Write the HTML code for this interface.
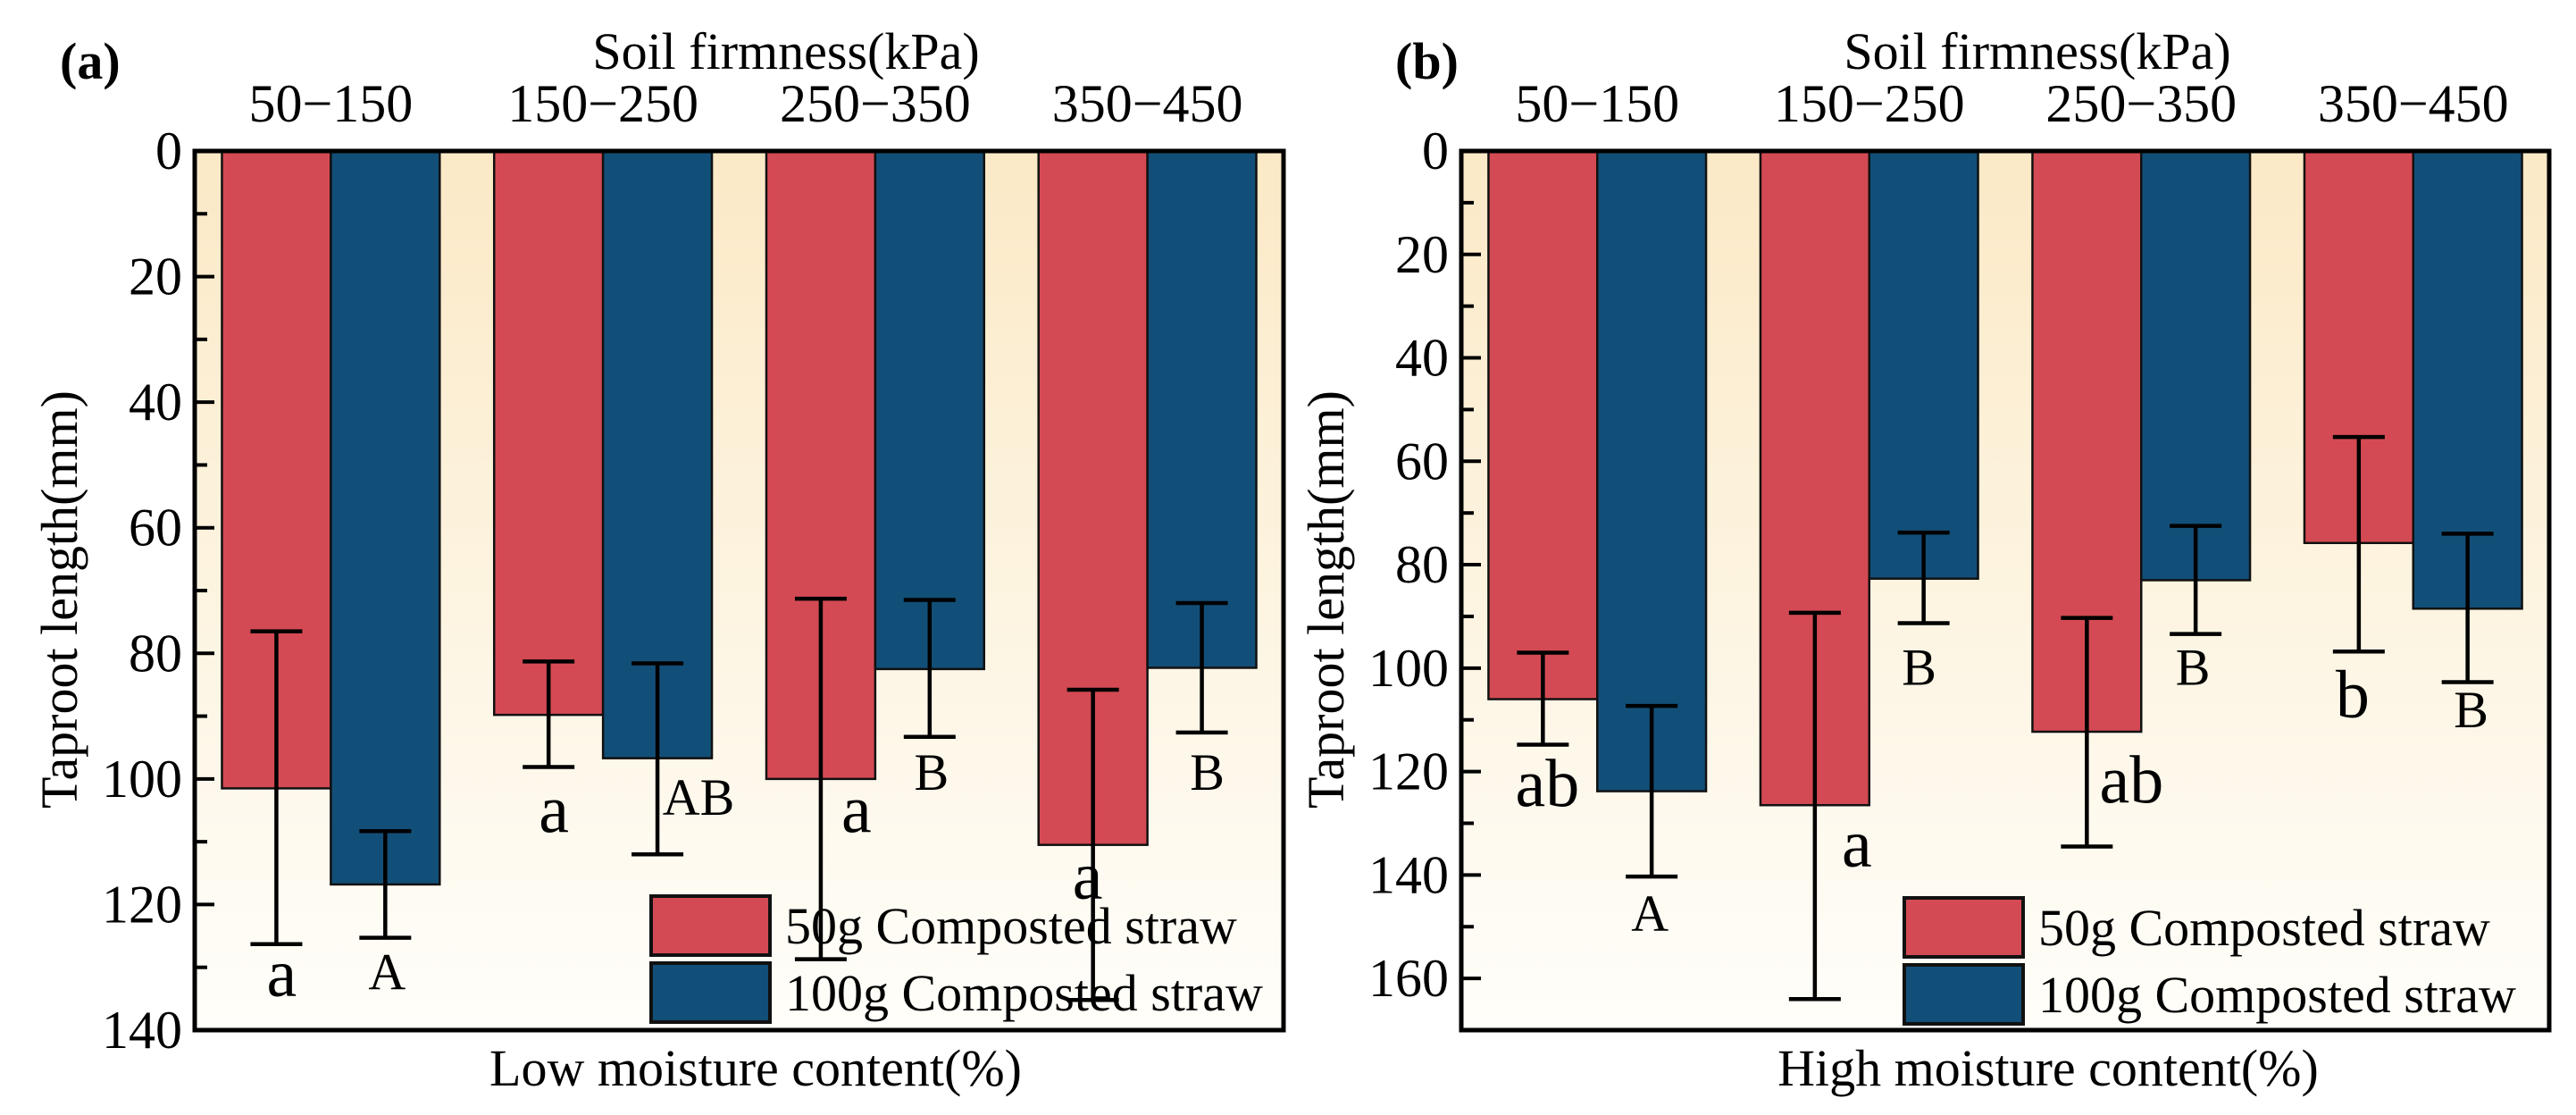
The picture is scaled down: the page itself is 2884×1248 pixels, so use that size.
<!DOCTYPE html>
<html><head><meta charset="utf-8">
<style>
html,body{margin:0;padding:0;background:#fff;overflow:hidden;}
svg{display:block;font-family:"Liberation Serif",serif;}
</style></head>
<body>
<svg id="fig" width="2884" height="1248" viewBox="0 0 2884 1248" xmlns="http://www.w3.org/2000/svg">
<defs>
<linearGradient id="bg" x1="0" y1="0" x2="0" y2="1">
<stop offset="0" stop-color="#fbe9c6"/>
<stop offset="0.55" stop-color="#fdf5e3"/>
<stop offset="1" stop-color="#fffefa"/>
</linearGradient>
</defs>
</svg>
<script>
const categories = ["50\u2212150","150\u2212250","250\u2212350","350\u2212450"];
const seriesNames = ["50g Composted straw","100g Composted straw"];
// Panel a (low moisture)
const aRed = [101.5, 89.8, 100, 110.5];
const aBlue = [116.8, 96.7, 82.5, 82.3];
const aRedLo = [76.5, 81.3, 71.3, 85.8];
const aRedHi = [126.3, 98.1, 128.7, 135.2];
const aBlueLo = [108.3, 81.6, 71.5, 72];
const aBlueHi = [125.3, 112, 93.3, 92.6];
const aRedLetters = ["a","a","a","a"];
const aBlueLetters = ["A","AB","B","B"];
const aRedLetterY = [134.6, 108.5, 108.5, 119.1];
const aBlueLetterY = [133.5, 105.7, 101.7, 101.7];
const aTicks = [0,20,40,60,80,100,120,140];
// Panel b (high moisture)
const bRed = [106, 126.5, 112.3, 75.8];
const bBlue = [123.8, 82.7, 83, 88.5];
const bRedLo = [97, 89.3, 90.3, 55.3];
const bRedHi = [114.8, 164, 134.5, 96.8];
const bBlueLo = [107.3, 73.8, 72.5, 74];
const bBlueHi = [140.3, 91.3, 93.4, 102.7];
const bRedLetters = ["ab","a","ab","b"];
const bBlueLetters = ["A","B","B","B"];
const bRedLetterY = [126.7, 138.4, 126.0, 109.5];
const bBlueLetterY = [150.8, 103.2, 103.2, 111.4];
const bTicks = [0,20,40,60,80,100,120,140,160];

const NS = "http://www.w3.org/2000/svg";
const svg = document.getElementById("fig");
function mk(tag, attrs, parent){const e=document.createElementNS(NS,tag);for(const k in attrs)e.setAttribute(k,attrs[k]);(parent||svg).appendChild(e);return e;}
const RED="#d44a54", BLUE="#124f78";

function panel(o){
  const g = mk("g",{});
  
  
  const L=o.left,R=o.right,T=169,B=1153;
  const y = v => T + v/o.max * (B - T);
  const band = (R-L)/categories.length;
  const xRed = i => L + band*i + band*0.1;
  const xBlue = i => L + band*i + band*0.5;
  const bw = band*0.4;
  const bg = mk("rect",{x:L,y:T,width:R-L,height:B-T,fill:"url(#bg)"},g);
  
  
  for(let v=0; v<=o.max; v+=10){
    const major = (v%20===0);
    const t = mk("line",{x1:L,x2:L+(major?22:14),y1:y(v),y2:y(v),stroke:"#000","stroke-width":4},g);
    
    
  }
  o.ticks.forEach(v=>{
    const t = mk("text",{x:L-14,y:y(v)+20,"text-anchor":"end","font-size":60,fill:"#000"},g);
    t.textContent=v;
    
    
  });
  categories.forEach((c,i)=>{
    const t = mk("text",{x:L+band*i+band/2,y:136,"text-anchor":"middle","font-size":60,fill:"#000"},g);
    t.textContent=c;
    
    
    [[o.red,o.redLo,o.redHi,xRed,RED,o.redL,o.redLY,76,o.redDx,'red'],[o.blue,o.blueLo,o.blueHi,xBlue,BLUE,o.blueL,o.blueLY,58,o.blueDx,'blue']].forEach(s=>{
      const [vals,lo,hi,xf,col,lets,ly,fs,dx,nm]=s;
      const r = mk("rect",{x:xf(i),y:y(0),width:bw,height:y(vals[i])-y(0),fill:col,stroke:"#111","stroke-width":2.5},g);
      
      
      const cx = xf(i)+bw/2;
      const eb = mk("g",{stroke:"#000","stroke-width":4.5},g);
      
      
      mk("line",{x1:cx,x2:cx,y1:y(lo[i]),y2:y(hi[i])},eb);
      mk("line",{x1:cx-29,x2:cx+29,y1:y(lo[i]),y2:y(lo[i])},eb);
      mk("line",{x1:cx-29,x2:cx+29,y1:y(hi[i]),y2:y(hi[i])},eb);
      const lt = mk("text",{x:cx+dx[i],y:y(ly[i]),"text-anchor":"middle","font-size":fs,fill:"#000"},g);
      lt.textContent=lets[i];
      
      
    });
  });
  const fr = mk("rect",{x:L,y:T,width:R-L,height:B-T,fill:"none",stroke:"#000","stroke-width":5},g);
  
  
  [[RED,0],[BLUE,1]].forEach(([col,k])=>{
    const ly = o.legY + k*75;
    const lg = mk("g",{},g);
    
    
    mk("rect",{x:o.legX,y:ly,width:133,height:66,fill:col,stroke:"#111","stroke-width":4},lg);
    const t = mk("text",{x:o.legX+150,y:ly+53,"font-size":58,fill:"#000"},lg);
    t.textContent=seriesNames[k];
  });
  const ttl = mk("text",{x:o.titleX,y:77,"text-anchor":"middle","font-size":58,fill:"#000"},g);
  ttl.textContent="Soil firmness(kPa)";
  
  
  const pl = mk("text",{x:o.tagX,y:88,"font-size":58,"font-weight":"bold",fill:"#000"},g);
  pl.textContent=o.tag;
  
  
  const yl = mk("text",{x:0,y:0,"text-anchor":"middle","font-size":58,fill:"#000",transform:`translate(${o.yLabX},${671}) rotate(-90)`},g);
  yl.textContent="Taproot length(mm)";
  
  
  const xl = mk("text",{x:o.xLabX,y:1215,"text-anchor":"middle","font-size":58,fill:"#000"},g);
  xl.textContent=o.xLab;
  
  
}

panel({id:"panel-a",left:218,right:1437,max:140,ticks:aTicks,red:aRed,blue:aBlue,redLo:aRedLo,redHi:aRedHi,blueLo:aBlueLo,blueHi:aBlueHi,
  redL:aRedLetters,blueL:aBlueLetters,redLY:aRedLetterY,blueLY:aBlueLetterY,redDx:[6,6,40,-6],blueDx:[2,46,2,6],
  legX:729,legY:1003,titleX:880,tagX:67,yLabX:86,xLabX:846,tag:"(a)",xLab:"Low moisture content(%)"});
panel({id:"panel-b",left:1636,right:2854,max:170,ticks:bTicks,red:bRed,blue:bBlue,redLo:bRedLo,redHi:bRedHi,blueLo:bBlueLo,blueHi:bBlueHi,
  redL:bRedLetters,blueL:bBlueLetters,redLY:bRedLetterY,blueLY:bBlueLetterY,redDx:[5,47,50,-7],blueDx:[-2,-5,-3,4],
  legX:2132,legY:1005,titleX:2281,tagX:1562,yLabX:1504,xLabX:2293,tag:"(b)",xLab:"High moisture content(%)"});
</script>
</body></html>
